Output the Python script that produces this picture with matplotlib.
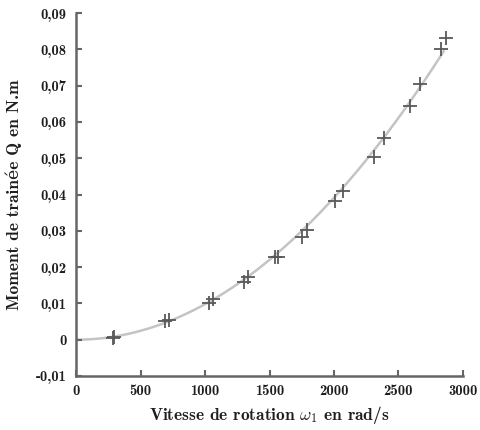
import numpy as np
import matplotlib
matplotlib.use("Agg")
import matplotlib.pyplot as plt

# Measured drag torque versus rotation speed
omega = [285, 292, 690, 720, 1030, 1060, 1300, 1330, 1540, 1565,
         1750, 1790, 2010, 2070, 2310, 2390, 2590, 2670, 2830, 2870]
torque = [0.0005, 0.0008, 0.0052, 0.0055, 0.0102, 0.0112, 0.0160, 0.0172, 0.0228, 0.0229,
          0.0282, 0.0302, 0.0382, 0.0410, 0.0502, 0.0555, 0.0645, 0.0705, 0.0802, 0.0832]

xticks = [0, 500, 1000, 1500, 2000, 2500, 3000]
yticks = [-0.01, 0, 0.01, 0.02, 0.03, 0.04, 0.05, 0.06, 0.07, 0.08, 0.09]
ytick_labels = ["-0,01", "0", "0,01", "0,02", "0,03", "0,04", "0,05", "0,06", "0,07", "0,08", "0,09"]

plt.rcParams["font.family"] = ["cmb10", "DejaVu Serif"]
plt.rcParams["mathtext.fontset"] = "cm"
plt.rcParams["axes.unicode_minus"] = False

fig = plt.figure(figsize=(4.81, 4.30), dpi=100)
ax = fig.add_axes([76 / 481, 1 - 376 / 430, (463 - 76) / 481, (376 - 13) / 430])

# Quadratic fit Q = a*w^2 through the origin
w = np.array(omega, dtype=float)
q = np.array(torque, dtype=float)
a = np.sum(q * w**2) / np.sum(w**4)
wf = np.linspace(0, 2850, 200)
ax.plot(wf, a * wf**2, color="#c4c4c4", lw=1.8, zorder=1)

ax.plot(omega, torque, linestyle="none", marker="+", markersize=10,
        markeredgewidth=1.3, color="#595959", zorder=2)

ax.set_xlim(0, 3000)
ax.set_ylim(-0.01, 0.09)
ax.set_xticks(xticks)
ax.set_xticklabels([str(t) for t in xticks])
ax.set_yticks(yticks)
ax.set_yticklabels(ytick_labels)

for s in ["top", "right"]:
    ax.spines[s].set_visible(False)
for s in ["left", "bottom"]:
    ax.spines[s].set_color("#666666")
    ax.spines[s].set_linewidth(1.8)

ax.tick_params(direction="in", length=4, width=1.5, color="#666666",
               labelsize=10.5, labelcolor="#1e1e1e")
ax.tick_params(axis="y", pad=7)
ax.tick_params(axis="x", pad=6)

ax.set_xlabel(r"Vitesse de rotation $\omega_1$ en rad/s", fontsize=12.5,
              color="#1e1e1e", labelpad=4)
ax.set_ylabel("Moment de trainée Q en N.m", fontsize=12.5,
              color="#1e1e1e", labelpad=10)

fig.savefig("out.png", dpi=100)
